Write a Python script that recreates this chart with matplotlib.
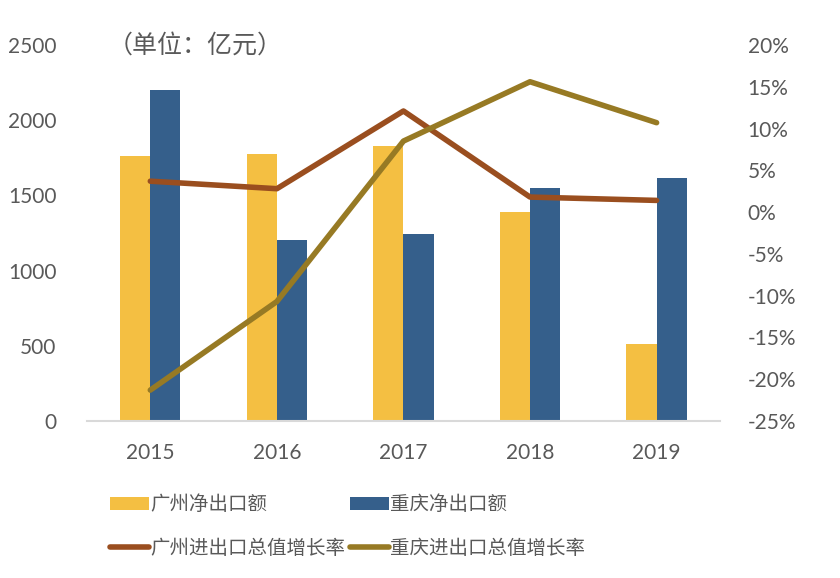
import matplotlib
matplotlib.use('Agg')
import matplotlib.pyplot as plt
from matplotlib.ticker import FuncFormatter
import numpy as np

plt.rcParams['font.family'] = ['Lato', 'Noto Sans CJK SC', 'DejaVu Sans']

years = ['2015', '2016', '2017', '2018', '2019']
gz_net = [1762, 1775, 1828, 1390, 512]
cq_net = [2201, 1203, 1243, 1549, 1616]
gz_growth = [3.7, 2.8, 12.1, 1.8, 1.4]
cq_growth = [-21.3, -10.7, 8.5, 15.6, 10.7]

yellow = '#F4BF42'
blue = '#355F8B'
brown = '#9A4E1F'
olive = '#977A24'
grey = '#595959'

fig = plt.figure(figsize=(8.4, 5.78), dpi=100)
ax = fig.add_axes([0.1036, 0.2716, 0.7534, 0.6506])

x = np.arange(len(years))
w = 0.238
b1 = ax.bar(x - w / 2, gz_net, w, color=yellow)
b2 = ax.bar(x + w / 2, cq_net, w, color=blue)
ax.set_ylim(0, 2500)
ax.set_yticks(range(0, 2501, 500))
ax.set_xlim(-0.5, 4.5)
ax.set_xticks(x)
ax.set_xticklabels(years)

ax2 = ax.twinx()
l1, = ax2.plot(x, gz_growth, color=brown, lw=4, solid_capstyle='round')
l2, = ax2.plot(x, cq_growth, color=olive, lw=4, solid_capstyle='round')
ax2.set_ylim(-25, 20)
ax2.set_yticks(range(-25, 21, 5))
ax2.yaxis.set_major_formatter(FuncFormatter(lambda v, p: '%d%%' % v))

for a in (ax, ax2):
    for s in a.spines.values():
        s.set_visible(False)
    a.tick_params(length=0, labelsize=15, labelcolor=grey)
ax.spines['bottom'].set_visible(True)
ax.spines['bottom'].set_color('#D9D9D9')
ax.spines['bottom'].set_linewidth(1.5)
ax.tick_params(axis='x', pad=16)
ax.tick_params(axis='y', pad=22)
ax2.tick_params(axis='y', pad=20)

fig.text(0.128, 0.922, '（单位：亿元）', fontsize=18, color=grey, va='center')

fig.legend([b1, l1, b2, l2],
           ['广州净出口额', '广州进出口总值增长率', '重庆净出口额', '重庆进出口总值增长率'],
           ncol=2, loc='center left', bbox_to_anchor=(0.11, 0.09), frameon=False,
           fontsize=14, labelcolor=grey, handlelength=2.0, handletextpad=0.1,
           columnspacing=0.2, labelspacing=1.3)

fig.savefig('out.png', dpi=100)
